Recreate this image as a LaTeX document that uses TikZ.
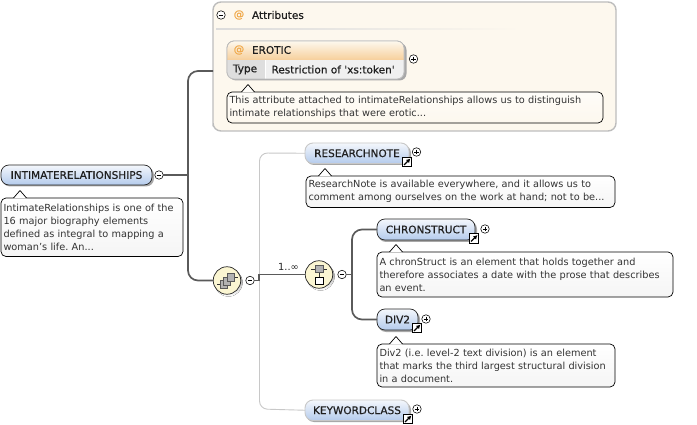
\documentclass[tikz,border=0pt]{standalone}
\usepackage{fontspec}
\setmainfont{DejaVu Sans}
\newfontfamily\semib[FakeBold=0.6]{DejaVu Sans}
\usetikzlibrary{shapes.geometric,positioning,calc,arrows.meta}
\definecolor{elemb}{HTML}{B4CBEC}
\definecolor{elemt}{HTML}{F4F7FC}
\definecolor{attrbg}{HTML}{FDF8EE}
\definecolor{attrln}{HTML}{BDBDBD}
\definecolor{wire}{HTML}{5A5A5A}
\definecolor{lite}{HTML}{C8C8C8}
\definecolor{compo}{HTML}{FBF6D2}
\definecolor{atcol}{HTML}{F0A848}
\definecolor{shade}{HTML}{A8A8A8}
\tikzset{x=1pt,y=-1pt,
 every node/.style={inner sep=0pt,outer sep=0pt},
 headfont/.style={font=\semib\fontsize{10.5}{10}\selectfont,text=black!88},
 elembox/.style={draw=black!85,line width=.7pt,rounded corners=8pt,top color=elemt,bottom color=elemb,headfont,anchor=north west},
 elemlite/.style={draw=lite,line width=.9pt,rounded corners=8pt,top color=elemt,bottom color=elemb,headfont,anchor=north west},
 notebox/.style={draw=black,line width=.7pt,rounded corners=5pt,top color=white,bottom color=black!4,anchor=north west,align=left,inner xsep=2.5pt,font=\fontsize{9.75}{13.1}\selectfont,text=black!80},
 wireline/.style={draw=wire,line width=1.7pt,rounded corners=10pt},
 thinwire/.style={draw=wire,line width=1.3pt},
 liteline/.style={draw=lite,line width=.9pt,rounded corners=8pt},
 toggle/.style={circle,draw=black,fill=white,line width=.55pt,minimum size=8.5pt},
 compositor/.style={circle,draw=black!85,line width=.7pt,fill=compo,minimum size=27.5pt},
 linkbox/.style={draw=black,fill=white,line width=.7pt,minimum size=9.5pt},
 shadowfill/.style={fill=shade,rounded corners=8pt},
 atsign/.style={font=\semib\fontsize{10.5}{10}\selectfont,text=atcol},
}
\newcommand{\Pl}[2]{\node[toggle] (#1) at (#2) {}; \draw[line width=.55pt] ($(#1)+(-2.3,0)$)--($(#1)+(2.3,0)$) ($(#1)+(0,-2.3)$)--($(#1)+(0,2.3)$);}
\newcommand{\Mi}[2]{\node[toggle] (#1) at (#2) {}; \draw[line width=.55pt] ($(#1)+(-2.3,0)$)--($(#1)+(2.3,0)$);}
\newcommand{\Lk}[2]{\node[linkbox] (#1) at (#2) {}; \draw[line width=1.1pt,-{Latex[length=4pt,width=4.5pt]}] ($(#1)+(-3,3)$)--($(#1)+(3.4,-3.4)$);}
% pointer on top of a note: x of the peak, y of the note top
\newcommand{\Ptr}[3][white]{\fill[#1] (#2-6.5,#3+.5)--(#2,#3-7.5)--(#2+6.5,#3+.5)--cycle; \draw[line width=.7pt,line join=round] (#2-6.5,#3)--(#2,#3-7.5)--(#2+6.5,#3);}
\begin{document}
\begin{tikzpicture}
\frenchspacing
\useasboundingbox (0,0) rectangle (697,425);
\fill[white] (0,0) rectangle (697,425);
% attributes panel
\path[draw=attrln,line width=1.4pt,fill=attrbg,rounded corners=8pt] (213,131) [sharp corners] -- (213,60) [rounded corners=8pt] -- (213,2) -- (616,2) -- (616,131) -- (213,131) -- cycle;
\node[minimum width=403pt,minimum height=129pt,anchor=north west] (panel) at (213,2) {};
\shade[left color=black!14,right color=attrbg] (216,28.5) rectangle (520,30);
\Mi{mattr}{221,15}
\node[atsign] (at1) at (239,15) {@};
\node[headfont,anchor=west] (attrt) at (252,15) {Attributes};
% EROTIC
\fill[shadowfill,rounded corners=7pt] (229,43) rectangle (406.5,80.5);
\node[draw=attrln,line width=.8pt,rounded corners=7pt,fill=white,minimum width=177pt,minimum height=38pt,anchor=north west] (erotic) at (227,41) {};
\begin{scope}
\clip[rounded corners=7pt] (227,41) rectangle (404,79);
\fill[top color=attrbg,bottom color=atcol!55] (227,41) rectangle (404,60);
\fill[black!13] (227,60) rectangle (265,79);
\fill[black!6] (265,60) rectangle (404,79);
\fill[white] (264.5,60) rectangle (265.5,79);
\end{scope}
\draw[attrln,line width=.8pt,rounded corners=7pt] (227,41) rectangle (404,79);
\node[atsign] (at2) at (239,50) {@};
\node[headfont,anchor=west] (erott) at (252,50) {EROTIC};
\node[headfont,anchor=west] (ty) at (233,69.5) {Type};
\node[headfont,anchor=west] (re) at (271.5,69.5) {Restriction of {\char39}xs:token{\char39}};
\Pl{perot}{413.5,59}
% erotic note
\node[notebox,top color=attrbg!40!white,bottom color=attrbg,text width=371pt,minimum height=31pt] (ne) at (227,92) {This attribute attached to intimateRelationships allows us to distinguish\\intimate relationships that were erotic...};
\Ptr[attrbg!40!white]{248}{92}
% root
\fill[shadowfill] (2,167) rectangle (154,186.5);
\node[elembox,minimum width=151pt,minimum height=20pt] (root) at (1,165) {INTIMATERELATIONSHIPS};
\Mi{mroot}{159,175}
\node[notebox,text width=177pt,minimum height=58.5pt] (nr) at (1,198) {IntimateRelationships is one of the\\16 major biography elements\\defined as integral to mapping a\\woman{\char39}s life. An...};
\Ptr{20}{198}
% sequence compositor
\fill[shade] (228.5,282.5) circle (14);
\node[compositor] (seq) at (227,280.5) {};
\draw[black!80,line width=.7pt] (217,284)--(222,284) (233,277)--(238,277);
\draw[black!65,fill=black!30,line width=.5pt] (220,280) rectangle (227,288);
\draw[black!65,fill=black!30,line width=.5pt] (223.5,277) rectangle (230.5,285);
\draw[black!65,fill=black!30,line width=.5pt] (227,273.5) rectangle (234,281.5);
\Mi{mseq}{250,280.5}
\node[font=\fontsize{9.8}{10}\selectfont,text=black!85] (occ) at (288.5,267) {1..∞};
% choice compositor
\fill[shade] (320.5,276.5) circle (14);
\node[compositor] (cho) at (319,274.5) {};
\draw[black!80,line width=.7pt] (311,269)--(327,269) (319,269)--(319,278);
\draw[black!65,fill=black!30,line width=.5pt] (315,265.5) rectangle (323,272.5);
\draw[black,fill=white,line width=.7pt] (315,277) rectangle (323,284);
\Mi{mcho}{342,274.5}
% researchnote
\fill[shadowfill] (306,145) rectangle (411,165);
\node[elemlite,minimum width=104pt,minimum height=20.5pt] (rn) at (305,143) {RESEARCHNOTE};
\Lk{lrn}{407,162}
\Pl{prn}{416.5,152}
\node[notebox,text width=304pt,minimum height=31.5pt] (nrn) at (306,176) {ResearchNote is available everywhere, and it allows us to\\comment among ourselves on the work at hand; not to be...};
\Ptr{325}{176}
% chronstruct
\fill[shadowfill] (378,221) rectangle (477,242);
\node[elembox,minimum width=98pt,minimum height=21pt] (cs) at (377,219) {CHRONSTRUCT};
\Lk{lcs}{474,238.5}
\Pl{pcs}{485,229}
\node[notebox,text width=291pt,minimum height=45pt] (ncs) at (377,252) {A chronStruct is an element that holds together and\\therefore associates a date with the prose that describes\\an event.};
\Ptr{396}{252}
% div2
\fill[shadowfill] (378,311) rectangle (420,332);
\node[elembox,minimum width=41pt,minimum height=21pt] (dv) at (377,309) {DIV2};
\Lk{ldv}{417,328}
\Pl{pdv}{426,319}
\node[notebox,text width=233pt,minimum height=43pt] (ndv) at (377,344) {Div2 (i.e. level-2 text division) is an element\\that marks the third largest structural division\\in a document.};
\Ptr{396}{344}
% keywordclass
\fill[shadowfill] (306,402) rectangle (411,422);
\node[elemlite,minimum width=104pt,minimum height=20.5pt] (kw) at (305,400) {KEYWORDCLASS};
\Lk{lkw}{408,419}
\Pl{pkw}{417,409}
% connectors
\coordinate (trunk) at (188,175);
\draw[wireline] (panel.west |- 0,71) -- (trunk |- 0,71) -- (trunk |- seq.west) -- (seq.west);
\draw[wireline,rounded corners=0pt] (mroot.east) -- (trunk);
\draw[liteline] (rn.west) -- (259.5,153) -- (259.5,409) -- (kw.west);
\draw[thinwire] (mseq.east) -- (259,280.5) -- (259,274.5) -- (cho.west);
\coordinate (trunkb) at (352,274.5);
\draw[wireline] (cs.west) -- (trunkb |- cs.west) -- (trunkb |- dv.west) -- (dv.west);
\draw[thinwire] (mcho.east) -- (trunkb);
\end{tikzpicture}
\end{document}
